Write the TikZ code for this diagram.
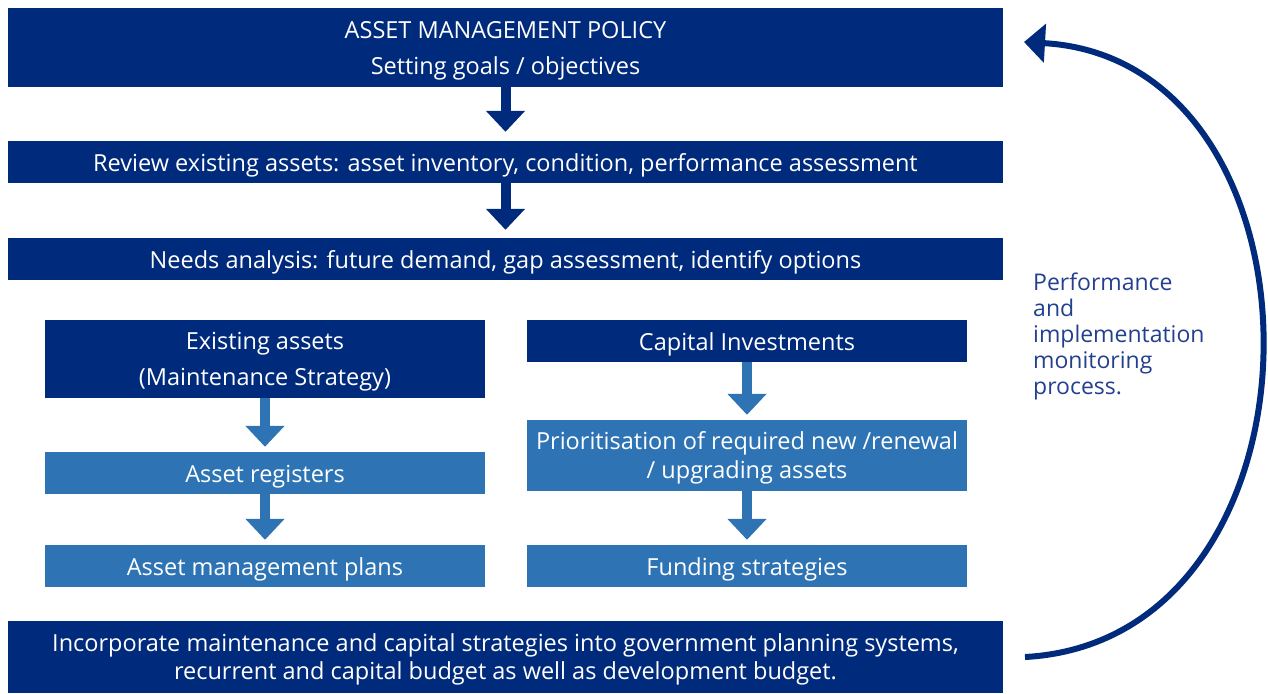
\documentclass[tikz,border=0pt]{standalone}
\usepackage{fontspec}
\setmainfont{Open Sans}
\usetikzlibrary{arrows.meta}
\definecolor{navy}{HTML}{002A7B}
\definecolor{steel}{HTML}{2E74B5}
\definecolor{inkblue}{HTML}{23408E}

\begin{document}
\begin{tikzpicture}[x=1pt,y=-1pt,
  box/.style={fill=navy,text=white,align=center,inner sep=0pt,
    font=\fontsize{23.5}{29}\selectfont,
    % struts keep the lettering centred in the bar
    execute at begin node={\rule{0pt}{25.5pt}},
    execute at end node={\rule[-6.5pt]{0pt}{6.5pt}}},
  twoline/.style={text depth=-2.5pt},
  roomy/.style={twoline,font=\fontsize{23.5}{36}\selectfont},
  wide/.style={box,minimum width=995pt},
  half/.style={box,minimum width=440pt},
  pale/.style={half,fill=steel},
  down/.style={draw=navy,line width=10pt,-{Triangle[width=38pt,length=21pt]}},
  palearrow/.style={down,draw=steel}]
  \useasboundingbox (0,0) rectangle (1268,693);
  \node[wide,roomy,minimum height=79pt] (a) at (505.5,47.5)
    {ASSET MANAGEMENT POLICY\\Setting goals / objectives};
  \node[wide,minimum height=42pt] (b) at (505.5,162)
    {Review existing assets: asset inventory, condition, performance assessment};
  \node[wide,minimum height=42pt] (c) at (505.5,259)
    {Needs analysis: future demand, gap assessment, identify options};
  \node[half,roomy,minimum height=78pt] (d) at (265,359)
    {Existing assets\\(Maintenance Strategy)};
  \node[half,minimum height=42pt] (e) at (747,341) {Capital Investments};
  \node[pale,minimum height=42pt] (f) at (265,473) {Asset registers};
  \node[pale,minimum height=42pt] (g) at (265,566) {Asset management plans};
  \node[pale,twoline,minimum height=71pt] (h) at (747,455.5)
    {Prioritisation of required new /renewal\\/ upgrading assets};
  \node[pale,minimum height=42pt] (i) at (747,566) {Funding strategies};
  \node[wide,twoline,minimum height=72pt,font=\fontsize{23.5}{28}\selectfont] (j) at (505.5,657)
    {Incorporate maintenance and capital strategies into government planning systems,\\recurrent and capital budget as well as development budget.};
  \node[text=inkblue,align=left,anchor=north west,inner sep=0pt,
    font=\fontsize{23}{26}\selectfont] (m) at (1033,273)
    {Performance\\and\\implementation\\monitoring\\process.};
  \draw[down,shorten >=9pt] (a) -- (b);
  \draw[down,shorten >=8pt] (b) -- (c);
  \draw[palearrow,shorten >=5pt] (d) -- (f);
  \draw[palearrow,shorten >=5pt] (f) -- (g);
  \draw[palearrow,shorten >=5pt] (e) -- (h);
  \draw[palearrow,shorten >=5pt] (h) -- (i);
  % monitoring loop back to the policy
  \coordinate (p) at (1025,657);
  \coordinate (q) at (1024,42);
  \draw[navy,line width=6pt,-{Triangle[width=38pt,length=21pt]}]
    (p) .. controls (1340,640) and (1340,60) .. (q);
\end{tikzpicture}
\end{document}
